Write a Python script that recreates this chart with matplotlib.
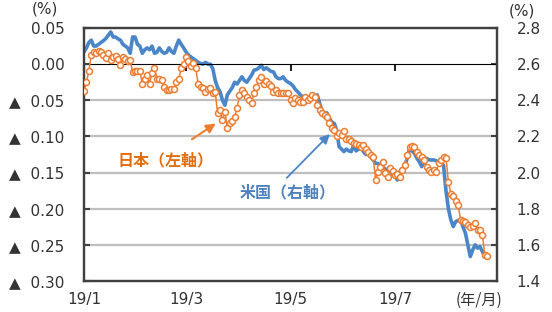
import matplotlib
matplotlib.use("Agg")
import matplotlib.pyplot as plt
import numpy as np

# 日本10年国債利回り (%), business days Jan 2019 - late Aug 2019 (left axis)
japan = [
    -0.037, -0.025, -0.009, 0.012, 0.017, 0.016, 0.018, 0.017, 0.013, 0.008,
    0.016, 0.006, 0.010, 0.011, 0.007, -0.001, 0.010, 0.007, 0.004, 0.006,
    -0.011, -0.010, -0.009, -0.009, -0.027, -0.020, -0.015, -0.027, -0.012, -0.005,
    -0.020, -0.021, -0.022, -0.031, -0.036, -0.036, -0.035, -0.034, -0.025, -0.020,
    -0.006, 0.000, 0.010, 0.005, -0.003, 0.001, -0.006, -0.027, -0.031, -0.033,
    -0.038, -0.035, -0.033, -0.040, -0.038, -0.068, -0.063, -0.077, -0.066, -0.089,
    -0.082, -0.078, -0.073, -0.061, -0.043, -0.036, -0.040, -0.045, -0.049, -0.054,
    -0.040, -0.031, -0.022, -0.018, -0.027, -0.024, -0.027, -0.030, -0.038, -0.036,
    -0.040, -0.040, -0.040, -0.040, -0.040, -0.049, -0.054, -0.047, -0.050, -0.052,
    -0.052, -0.046, -0.050, -0.047, -0.043, -0.045, -0.057, -0.064, -0.068, -0.070,
    -0.073, -0.082, -0.088, -0.091, -0.100, -0.095, -0.098, -0.093, -0.103, -0.104,
    -0.107, -0.109, -0.110, -0.112, -0.114, -0.112, -0.118, -0.121, -0.125, -0.128,
    -0.160, -0.149, -0.142, -0.135, -0.151, -0.156, -0.144, -0.148, -0.153, -0.152,
    -0.156, -0.146, -0.139, -0.126, -0.114, -0.113, -0.115, -0.121, -0.125, -0.128,
    -0.133, -0.142, -0.146, -0.149, -0.147, -0.149, -0.137, -0.132, -0.129, -0.130,
    -0.163, -0.179, -0.183, -0.190, -0.195, -0.215, -0.217, -0.218, -0.222, -0.225,
    -0.224, -0.220, -0.229, -0.230, -0.236, -0.264, -0.265,
]

# 米国10年国債利回り (%), right axis
us = [
    2.668, 2.69, 2.72, 2.733, 2.70, 2.70, 2.71, 2.72, 2.73, 2.742,
    2.76, 2.778, 2.75, 2.75, 2.74, 2.733, 2.71, 2.70, 2.69, 2.66,
    2.75, 2.75, 2.71, 2.70, 2.66, 2.68, 2.69, 2.68, 2.70, 2.66,
    2.665, 2.69, 2.67, 2.66, 2.665, 2.69, 2.67, 2.66, 2.70, 2.733,
    2.71, 2.69, 2.668, 2.65, 2.64, 2.63, 2.62, 2.61, 2.604, 2.60,
    2.61, 2.60, 2.60, 2.576, 2.51, 2.47, 2.447, 2.40, 2.373, 2.43,
    2.45, 2.47, 2.50, 2.49, 2.51, 2.53, 2.51, 2.50, 2.52, 2.54,
    2.567, 2.57, 2.58, 2.594, 2.57, 2.58, 2.57, 2.56, 2.557, 2.53,
    2.52, 2.52, 2.53, 2.51, 2.50, 2.493, 2.48, 2.46, 2.447, 2.43,
    2.42, 2.41, 2.40, 2.40, 2.41, 2.42, 2.43, 2.383, 2.337, 2.33,
    2.33, 2.30, 2.28, 2.272, 2.235, 2.143, 2.13, 2.116, 2.13, 2.12,
    2.116, 2.152, 2.12, 2.13, 2.14, 2.116, 2.10, 2.10, 2.088, 2.07,
    2.051, 2.05, 2.04, 2.029, 2.02, 2.014, 2.01, 1.99, 1.98, 1.959,
    2.005, 2.02, 2.033, 2.079, 2.134, 2.12, 2.107, 2.08, 2.06, 2.033,
    2.06, 2.079, 2.07, 2.07, 2.07, 2.065, 2.06, 2.051, 2.04, 1.90,
    1.80, 1.738, 1.701, 1.729, 1.735, 1.738, 1.70, 1.665, 1.60, 1.535,
    1.572, 1.60, 1.582, 1.59, 1.563, 1.535, 1.539,
]

month_pos = [0, 42, 85, 128]
month_labels = ["19/1", "19/3", "19/5", "19/7"]
left_ticks = [0.05, 0.00, -0.05, -0.10, -0.15, -0.20, -0.25, -0.30]
right_ticks = [2.8, 2.6, 2.4, 2.2, 2.0, 1.8, 1.6, 1.4]

ORANGE = "#ED7D31"
BLUE = "#4A86C8"
SPINE = "#404040"
JP = ["Noto Sans CJK JP", "DejaVu Sans"]

plt.rcParams["font.family"] = ["DejaVu Sans", "Noto Sans CJK JP"]

x = np.arange(len(japan))
xu = np.arange(len(us))

fig = plt.figure(figsize=(5.52, 3.12), dpi=100)
ax2 = fig.add_axes([84 / 552, 1 - 281 / 312, 413 / 552, 253 / 312])
ax = ax2.twinx()

# right axis (US) holds the grid, drawn underneath
ax2.set_ylim(1.4, 2.8)
ax2.set_xlim(0, 170)
ax2.yaxis.tick_right()
ax2.set_yticks(right_ticks)
ax2.set_yticklabels([f"{v:.1f}" for v in right_ticks], fontsize=11, color="#333333")
for v in [2.4, 2.2, 2.0, 1.8, 1.6]:
    ax2.axhline(v, color="#BFBFBF", lw=1.6, zorder=0)
ax2.plot(xu, us, color=BLUE, lw=2.6, zorder=2)
ax2.tick_params(axis="y", direction="in", length=4, width=1.5, color=SPINE, pad=14)
ax2.set_xticks(month_pos)
ax2.set_xticklabels(month_labels, fontsize=11, color="#333333")
ax2.tick_params(axis="x", length=0, pad=8)

# left axis (Japan) on top
ax.yaxis.tick_left()
ax.set_ylim(-0.30, 0.05)
ax.set_xlim(0, 170)
ax.set_yticks(left_ticks)
ax.set_yticklabels([f"{v:.2f}" if v >= 0 else f"▲  {abs(v):.2f}" for v in left_ticks],
                   fontsize=11, color="#333333")
ax.tick_params(axis="y", direction="in", length=4, width=1.5, color=SPINE, pad=14)
ax.plot(x, japan, color=ORANGE, lw=1.1, marker="o", markersize=4.3,
        markerfacecolor="white", markeredgecolor=ORANGE, markeredgewidth=1.1, zorder=3)

for a in (ax, ax2):
    for s in a.spines.values():
        s.set_color(SPINE)
        s.set_linewidth(1.6)

# zero line with month tick marks
sec = ax.secondary_xaxis(0.30 / 0.35)
sec.set_xticks(month_pos)
sec.set_xticklabels([])
sec.tick_params(direction="in", length=5, width=1.5, color="#222222")
sec.spines["bottom"].set_color("#222222")
sec.spines["bottom"].set_linewidth(1.6)

# labels with arrows
ax.text(33.5, -0.133, "日本（左軸）", color="#E46C0A", fontsize=11.5, family=JP,
        fontweight="bold", ha="center", va="center")
ax.annotate("", xy=(55.2, -0.080), xytext=(43.5, -0.106),
            arrowprops=dict(arrowstyle="-|>", color=ORANGE, lw=1.5, mutation_scale=14))
ax.text(83.7, -0.177, "米国（右軸）", color="#4F81BD", fontsize=11.5, family=JP,
        fontweight="bold", ha="center", va="center")
ax.annotate("", xy=(102, -0.094), xytext=(82.7, -0.160),
            arrowprops=dict(arrowstyle="-|>", color=BLUE, lw=1.3, mutation_scale=14))

fig.text(45 / 552, 1 - 9 / 312, "(%)", fontsize=11, ha="center", va="center", color="#333333")
fig.text(522 / 552, 1 - 11 / 312, "(%)", fontsize=11, ha="center", va="center", color="#333333")
fig.text(479 / 552, 1 - 300 / 312, "(年/月)", fontsize=11, ha="center", va="center",
         color="#333333", family=JP)

fig.savefig("out.png", dpi=100)
plt.close(fig)
